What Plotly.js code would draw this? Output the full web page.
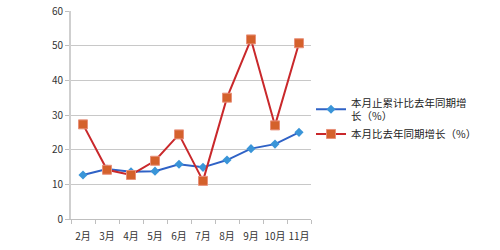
<!DOCTYPE html>
<html><head><meta charset="utf-8">
<script src="https://cdn.plot.ly/plotly-3.0.1.min.js"></script>
<style>html,body{margin:0;padding:0;background:#fff}#c{width:500px;height:250px}</style>
</head><body><div id="c"></div>
<script>
const months = ['2月','3月','4月','5月','6月','7月','8月','9月','10月','11月'];
const cumulative = [12.7, 14.4, 13.6, 13.8, 15.8, 14.9, 17.0, 20.3, 21.6, 25.0];
const monthly = [27.3, 14.2, 12.7, 16.8, 24.4, 11.0, 35.0, 51.8, 27.0, 50.7];
const names = ['本月止累计比去年同期增<br>长（%）', '本月比去年同期增长（%）'];

const traces = [
  {x: months, y: cumulative, name: names[0], type: 'scatter', mode: 'lines+markers',
   line: {color: '#2F62C6', width: 2},
   marker: {symbol: 'diamond', size: 7, color: '#3A95D8'}},
  {x: months, y: monthly, name: names[1], type: 'scatter', mode: 'lines+markers',
   line: {color: '#C9282B', width: 2},
   marker: {symbol: 'square', size: 9, color: '#D4612C', line: {color: '#E8907A', width: 1}}}
];
const layout = {
  width: 500, height: 250,
  margin: {l: 71, r: 189, t: 11, b: 31},
  paper_bgcolor: '#fff', plot_bgcolor: '#fff',
  font: {family: 'Noto Sans CJK SC, DejaVu Sans, sans-serif', size: 10, color: '#333'},
  showlegend: true,
  legend: {x: 1.0, y: 0.48, xanchor: 'left', yanchor: 'middle', font: {size: 10.5, color: '#222'},
    tracegroupgap: 2, itemwidth: 30},
  xaxis: {type: 'category', showgrid: false, showline: true, linecolor: '#BFBFBF', linewidth: 1,
    ticks: 'outside', tickson: 'boundaries', ticklen: 4, tickcolor: '#BFBFBF', tickangle: 0,
    ticklabelstandoff: 8,
    tickfont: {size: 10, color: '#333'}, range: [-0.5, 9.5], fixedrange: true},
  yaxis: {range: [0, 60], dtick: 10, showgrid: true, gridcolor: '#C8C8C8', gridwidth: 1,
    showline: true, linecolor: '#CFCFCF', linewidth: 2, ticks: 'outside', ticklen: 4, tickcolor: '#BFBFBF',
    zeroline: false, tickfont: {size: 10, color: '#333'}}
};
Plotly.newPlot('c', traces, layout, {displayModeBar: false, staticPlot: true});
</script></body></html>
